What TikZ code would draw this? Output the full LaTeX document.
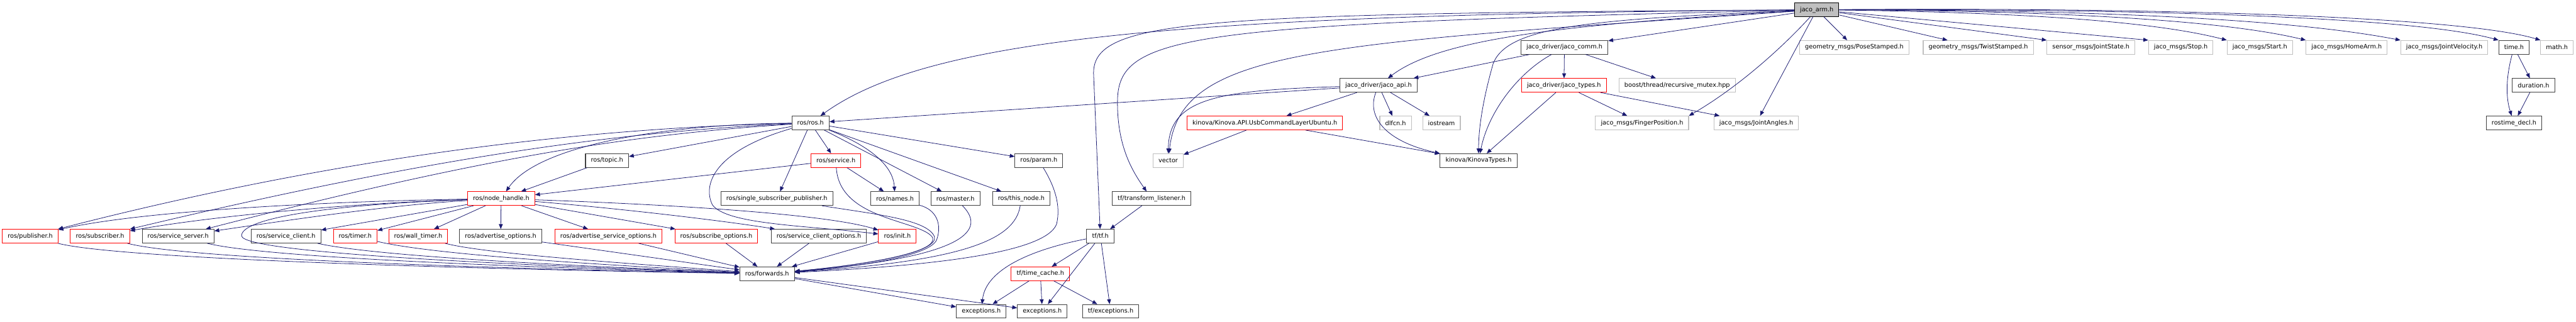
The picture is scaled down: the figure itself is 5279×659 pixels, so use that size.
\documentclass[tikz,border=0pt]{standalone}
\usepackage{fontspec}
\setmainfont{DejaVu Sans}
\usetikzlibrary{arrows.meta}
\definecolor{edgeblue}{HTML}{191970}
\definecolor{docgrey}{HTML}{404040}
\definecolor{extgrey}{HTML}{BFBFBF}

\begin{document}
\begin{tikzpicture}[
  x=0.75pt, y=-0.75pt,
  >={Triangle[length=7.5pt,width=6pt]},
  every node/.style={font=\fontsize{9.4}{11}\selectfont},
  filebox/.style={draw, fill=white, line width=1pt, inner xsep=8.3pt,
                  inner ysep=0pt, minimum height=21pt},
  docfile/.style={filebox, draw=docgrey},
  cutfile/.style={filebox, draw=red},
  extfile/.style={filebox, draw=extgrey},
  mainfile/.style={filebox, draw=black, fill=extgrey},
  dep/.style={->, draw=edgeblue, line width=0.75pt},
]
\useasboundingbox (0,0) rectangle (5279,659);

\node[mainfile] (arm) at (3723,20) {jaco\_arm.h};

\node[docfile] (comm) at (3206,97) {jaco\_driver/jaco\_comm.h};
\node[extfile] (pose) at (3800,97) {geometry\_msgs/PoseStamped.h};
\node[extfile] (twist) at (4054,97) {geometry\_msgs/TwistStamped.h};
\node[extfile] (jstate) at (4285,97) {sensor\_msgs/JointState.h};
\node[extfile] (stopmsg) at (4469,97) {jaco\_msgs/Stop.h};
\node[extfile] (startmsg) at (4631,97) {jaco\_msgs/Start.h};
\node[extfile] (homemsg) at (4809,97) {jaco\_msgs/HomeArm.h};
\node[extfile] (jvel) at (5009,97) {jaco\_msgs/JointVelocity.h};
\node[docfile] (timeh) at (5152,97) {time.h};
\node[extfile] (mathh) at (5240,97) {math.h};

\node[docfile] (api) at (2825,175) {jaco\_driver/jaco\_api.h};
\node[cutfile] (types) at (3205,175) {jaco\_driver/jaco\_types.h};
\node[extfile] (rmutex) at (3437,175) {boost/thread/recursive\_mutex.hpp};
\node[docfile] (durh) at (5192,175) {duration.h};

\node[docfile] (ros) at (1661,252) {ros/ros.h};
\node[cutfile] (usb) at (2592,252) {kinova/Kinova.API.UsbCommandLayerUbuntu.h};
\node[extfile] (dlfcn) at (2860,252) {dlfcn.h};
\node[extfile] (iostr) at (2954,252) {iostream};
\node[extfile] (finger) at (3365,252) {jaco\_msgs/FingerPosition.h};
\node[extfile] (jang) at (3599,252) {jaco\_msgs/JointAngles.h};
\node[docfile] (rdecl) at (5152,252) {rostime\_decl.h};

\node[docfile] (topic) at (1244,329) {ros/topic.h};
\node[cutfile] (service) at (1713,329) {ros/service.h};
\node[docfile] (param) at (2129,329) {ros/param.h};
\node[extfile] (vector) at (2394,329) {vector};
\node[docfile] (ktypes) at (3030,329) {kinova/KinovaTypes.h};

\node[cutfile] (nh) at (1027,407) {ros/node\_handle.h};
\node[docfile] (ssp) at (1592,407) {ros/single\_subscriber\_publisher.h};
\node[docfile] (names) at (1834,407) {ros/names.h};
\node[docfile] (master) at (1958,407) {ros/master.h};
\node[docfile] (thisnode) at (2093,407) {ros/this\_node.h};
\node[docfile] (tflist) at (2360,407) {tf/transform\_listener.h};

\node[cutfile] (pub) at (62,484) {ros/publisher.h};
\node[cutfile] (sub) at (205,484) {ros/subscriber.h};
\node[docfile] (ssrv) at (365,484) {ros/service\_server.h};
\node[docfile] (sclient) at (586,484) {ros/service\_client.h};
\node[cutfile] (timer) at (728,484) {ros/timer.h};
\node[cutfile] (wtimer) at (857,484) {ros/wall\_timer.h};
\node[docfile] (advopt) at (1026,484) {ros/advertise\_options.h};
\node[cutfile] (advsrvopt) at (1247,484) {ros/advertise\_service\_options.h};
\node[cutfile] (subopt) at (1468,484) {ros/subscribe\_options.h};
\node[docfile] (scopt) at (1678,484) {ros/service\_client\_options.h};
\node[cutfile] (init) at (1839,484) {ros/init.h};
\node[docfile] (tf) at (2255,484) {tf/tf.h};

\node[docfile] (fwd) at (1572,561) {ros/forwards.h};
\node[cutfile] (tcache) at (2132,561) {tf/time\_cache.h};

\node[docfile] (exca) at (2011,638) {exceptions.h};
\node[docfile] (excb) at (2136,638) {exceptions.h};
\node[docfile] (tfexc) at (2276,638) {tf/exceptions.h};

\draw[dep] (arm) .. controls (2400,30) and (1900,80) .. (ros);
\draw[dep] (arm) .. controls (2450,28) and (2241,40) .. (2241,150) -- (tf);
\draw[dep] (arm) .. controls (2420,50) and (2290,70) .. (2290,210)
  .. controls (2290,300) and (2320,350) .. (tflist);
\draw[dep] (arm) .. controls (2700,90) and (2420,100) .. (vector);
\draw[dep] (arm) .. controls (3200,50) and (2950,80) .. (api);
\draw[dep] (arm) .. controls (3250,40) and (3090,55) .. (3060,130)
  .. controls (3040,200) and (3030,260) .. (ktypes);
\draw[dep] (arm) -- (comm);
\draw[dep] (arm) .. controls (3650,100) and (3560,180) .. (finger.north east);
\draw[dep] (arm) -- (jang);
\draw[dep] (arm) -- (pose);
\draw[dep] (arm) -- (twist);
\draw[dep] (arm) -- (jstate.north west);
\draw[dep] (arm) -- (stopmsg.north west);
\draw[dep] (arm) .. controls (4100,25) and (4400,40) .. (startmsg.north west);
\draw[dep] (arm) .. controls (4200,22) and (4550,40) .. (homemsg.north west);
\draw[dep] (arm) .. controls (4300,20) and (4700,40) .. (jvel.north west);
\draw[dep] (arm) .. controls (4400,18) and (4950,35) .. (timeh.north west);
\draw[dep] (arm) .. controls (4450,15) and (5050,35) .. (mathh.north west);

\draw[dep] (comm) -- (api);
\draw[dep] (comm) -- (types);
\draw[dep] (comm) .. controls (3110,150) and (3050,230) .. (ktypes);
\draw[dep] (comm) -- (rmutex);
\draw[dep] (types) -- (ktypes);
\draw[dep] (types) -- (finger);
\draw[dep] (types) -- (jang);

\draw[dep] (timeh) -- (durh);
\draw[dep] (timeh) .. controls (5135,160) and (5135,200) .. (rdecl);
\draw[dep] (durh) -- (rdecl);

\draw[dep] (api) -- (ros);
\draw[dep] (api) -- (usb);
\draw[dep] (api) -- (dlfcn);
\draw[dep] (api) -- (iostr);
\draw[dep] (api) .. controls (2800,240) and (2840,290) .. (ktypes.north west);
\draw[dep] (api) .. controls (2500,185) and (2395,200) .. (vector);
\draw[dep] (usb) -- (vector);
\draw[dep] (usb) -- (ktypes);

\draw[dep] (ros) .. controls (1200,262) and (700,320) .. (pub);
\draw[dep] (ros) .. controls (1250,270) and (850,330) .. (sub);
\draw[dep] (ros) .. controls (1300,275) and (1000,320) .. (ssrv);
\draw[dep] (ros) .. controls (1350,255) and (1100,300) .. (nh);
\draw[dep] (ros) -- (topic);
\draw[dep] (ros) -- (service);
\draw[dep] (ros) -- (ssp);
\draw[dep] (ros) .. controls (1760,290) and (1830,330) .. (names);
\draw[dep] (ros) -- (master);
\draw[dep] (ros) -- (thisnode);
\draw[dep] (ros) -- (param);
\draw[dep] (ros) .. controls (1460,310) and (1440,380) .. (1460,420)
  .. controls (1490,460) and (1650,462) .. (init);

\draw[dep] (topic) -- (nh);
\draw[dep] (service) -- (nh);
\draw[dep] (service) -- (names);
\draw[dep] (service) .. controls (1720,450) and (1880,450) .. (1910,485)
  .. controls (1930,520) and (1750,545) .. (fwd);

\draw[dep] (nh) .. controls (700,412) and (300,430) .. (pub);
\draw[dep] (nh) .. controls (750,415) and (450,440) .. (sub);
\draw[dep] (nh) .. controls (800,420) and (600,450) .. (ssrv);
\draw[dep] (nh) -- (sclient);
\draw[dep] (nh) -- (timer);
\draw[dep] (nh) -- (wtimer);
\draw[dep] (nh) -- (advopt);
\draw[dep] (nh) -- (advsrvopt);
\draw[dep] (nh) -- (subopt);
\draw[dep] (nh) .. controls (1300,430) and (1500,455) .. (scopt);
\draw[dep] (nh) .. controls (1400,420) and (1700,440) .. (init);
\draw[dep] (nh) .. controls (650,420) and (495,450) .. (495,483)
  .. controls (495,520) and (1100,545) .. (fwd);

\draw[dep] (pub) .. controls (260,535) and (1150,555) .. (fwd);
\draw[dep] (sub) .. controls (400,535) and (1150,553) .. (fwd);
\draw[dep] (ssrv) .. controls (560,532) and (1200,551) .. (fwd);
\draw[dep] (sclient) .. controls (780,528) and (1250,548) .. (fwd);
\draw[dep] (timer) .. controls (900,525) and (1300,546) .. (fwd);
\draw[dep] (wtimer) .. controls (1000,522) and (1350,544) .. (fwd);
\draw[dep] (advopt) -- (fwd);
\draw[dep] (advsrvopt) -- (fwd);
\draw[dep] (subopt) -- (fwd);
\draw[dep] (scopt) -- (fwd);
\draw[dep] (init) -- (fwd);

\draw[dep] (ssp) .. controls (1800,440) and (1900,450) .. (1915,485)
  .. controls (1925,520) and (1750,545) .. (fwd);
\draw[dep] (names) .. controls (1920,430) and (1930,460) .. (1920,490)
  .. controls (1910,525) and (1750,548) .. (fwd);
\draw[dep] (master) .. controls (2030,480) and (1950,530) .. (fwd);
\draw[dep] (thisnode) .. controls (2080,490) and (1980,535) .. (fwd);
\draw[dep] (param) .. controls (2160,380) and (2175,420) .. (2165,460)
  .. controls (2140,520) and (1900,545) .. (fwd);

\draw[dep] (fwd) -- (exca);
\draw[dep] (fwd) -- (excb);

\draw[dep] (tflist) -- (tf);
\draw[dep] (tf) -- (tcache);
\draw[dep] (tf) .. controls (2120,510) and (2020,550) .. (exca);
\draw[dep] (tf) -- (excb);
\draw[dep] (tf) -- (tfexc);
\draw[dep] (tcache) -- (exca);
\draw[dep] (tcache) -- (excb);
\draw[dep] (tcache) -- (tfexc);
\end{tikzpicture}
\end{document}
